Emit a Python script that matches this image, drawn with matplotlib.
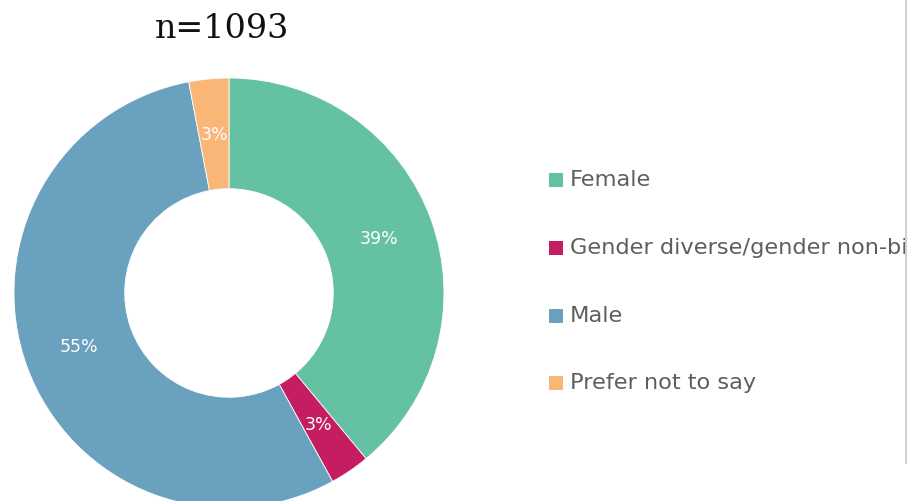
import matplotlib
matplotlib.use("Agg")
import matplotlib.pyplot as plt
from matplotlib.lines import Line2D
from matplotlib.patches import Rectangle

categories = ["Female", "Gender diverse/gender non-binary", "Male", "Prefer not to say"]
shares = [39, 3, 55, 3]
colors = ["#64c1a3", "#c51d61", "#69a1be", "#f9b677"]
title_text = "n=1093"

W, H = 908, 501
fig = plt.figure(figsize=(W / 100, H / 100), dpi=100)
fig.patch.set_facecolor("white")

# donut axes (pixel geometry converted to figure fractions)
cx, cy, r = 229, 293, 215
ax = fig.add_axes([(cx - r) / W, (H - cy - r) / H, 2 * r / W, 2 * r / H])
ax.set_xlim(-1, 1)
ax.set_ylim(-1, 1)
ax.set_aspect("equal")
ax.axis("off")

wedges, texts, autotexts = ax.pie(
    shares,
    colors=colors,
    startangle=90,
    counterclock=False,
    radius=1.0,
    autopct=lambda p: f"{p:.0f}%",
    pctdistance=0.74,
    wedgeprops=dict(width=0.515, edgecolor="white", linewidth=0.6),
    textprops=dict(color="white", fontsize=12.5, family="DejaVu Sans"),
)
ax.set_xlim(-1, 1)
ax.set_ylim(-1, 1)

fig.text(222 / W, 1 - 29 / H, title_text, ha="center", va="center",
         fontsize=24, family="DejaVu Serif", color="#111111")

# legend drawn in its own clipped axes
lx0, lx1 = 520, 905
lax = fig.add_axes([lx0 / W, 0, (lx1 - lx0) / W, 1])
lax.set_xlim(lx0, lx1)
lax.set_ylim(H, 0)
lax.axis("off")
ys = [180, 248, 316, 383]
for name, col, y in zip(categories, colors, ys):
    lax.add_patch(Rectangle((549, y - 7), 14, 14, facecolor=col, edgecolor="none"))
    t = lax.text(570, y, name, ha="left", va="center", fontsize=16.2,
                 family="DejaVu Sans", color="#5e5e5e")
    t.set_clip_on(True)

# thin frame line on the right
fig.add_artist(Line2D([906 / W, 906 / W], [1, 1 - 463 / H], color="#c8c8c8", linewidth=1.2))

fig.savefig("out.png", dpi=100, facecolor="white")
